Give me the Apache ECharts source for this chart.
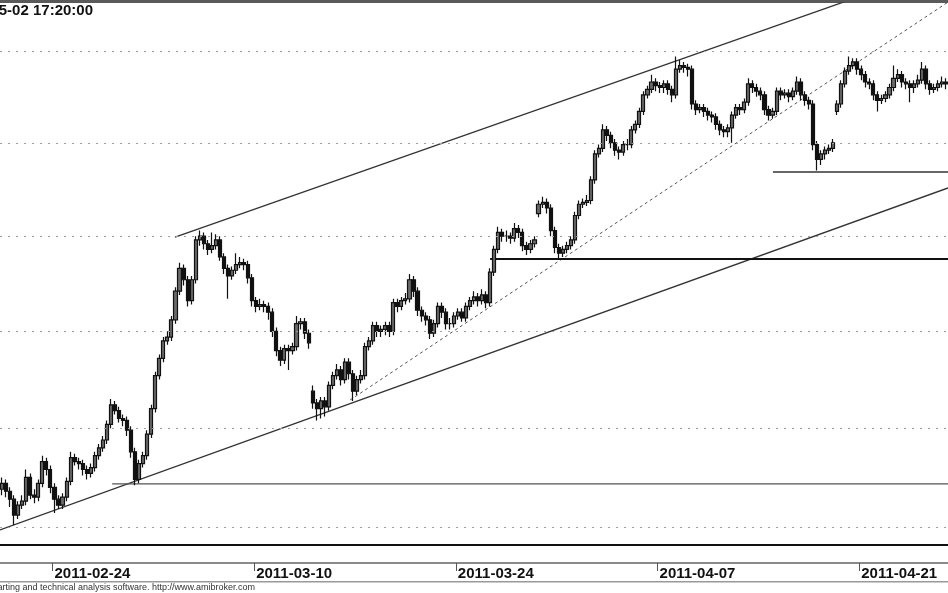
<!DOCTYPE html>
<html><head><meta charset="utf-8">
<script src="https://cdn.jsdelivr.net/npm/echarts@6/dist/echarts.min.js"></script>
<style>html,body{margin:0;padding:0;background:#fff}#c{width:948px;height:593px}</style>
</head><body><div id="c"></div><script>
const tradingDays = ['2011-02-21','2011-02-22','2011-02-23','2011-02-24','2011-02-25','2011-02-28',
'2011-03-01','2011-03-02','2011-03-03','2011-03-04','2011-03-07','2011-03-08','2011-03-09','2011-03-10','2011-03-11',
'2011-03-14','2011-03-15','2011-03-16','2011-03-17','2011-03-18','2011-03-21','2011-03-22','2011-03-23','2011-03-24',
'2011-03-25','2011-03-28','2011-03-29','2011-03-30','2011-03-31','2011-04-01','2011-04-04','2011-04-05','2011-04-06',
'2011-04-07','2011-04-08','2011-04-11','2011-04-12','2011-04-13','2011-04-14','2011-04-15','2011-04-18','2011-04-19',
'2011-04-20','2011-04-21','2011-04-26','2011-04-27','2011-04-28','2011-04-29'];
const sessionTimes = ['09:00','10:40','12:20','14:00','15:40'];
const tickDates = ['2011-02-24','2011-03-10','2011-03-24','2011-04-07','2011-04-21'];

const opens = [
2619,2622,2618,2614,2606,2611,2613,2625,2616,2615,
2622,2633,2629,2620,2614,2611,2615,2623,2635,2633,
2632,2629,2627,2630,2636,2640,2644,2652,2662,2659,
2655,2654,2649,2638,2624,2632,2636,2647,2660,2677,
2686,2695,2697,2706,2721,2733,2727,2716,2727,2748,
2750,2746,2743,2745,2748,2739,2733,2729,2732,2735,
2736,2735,2728,2716,2713,2714,2713,2710,2700,2690,
2685,2691,2690,2692,2704,2705,2699,2669,2663,2660,
2664,2661,2672,2677,2680,2675,2684,2678,2669,2675,
2677,2692,2695,2703,2700,2701,2703,2700,2715,2713,
2716,2717,2727,2721,2711,2708,2706,2699,2704,2713,
2710,2704,2704,2708,2710,2707,2713,2716,2718,2716,
2719,2715,2731,2743,2752,2750,2750,2749,2754,2752,
2745,2743,2746,2762,2767,2768,2765,2753,2744,2741,
2743,2745,2748,2761,2767,2768,2769,2780,2794,2797,
2807,2804,2800,2796,2795,2799,2799,2807,2810,2817,
2826,2829,2833,2831,2830,2832,2829,2826,2840,2842,
2841,2840,2821,2818,2819,2817,2815,2814,2810,2807,
2806,2808,2815,2819,2818,2822,2832,2830,2828,2826,
2818,2815,2817,2828,2826,2827,2825,2828,2833,2826,
2823,2821,2799,2791,2794,2796,2797,2817,2821,2832,
2839,2842,2844,2840,2837,2833,2832,2826,2823,2824,
2826,2830,2835,2837,2833,2832,2830,2832,2834,2840,
2832,2829,2830,2832,2833];
const closes = [
2622,2618,2614,2606,2611,2613,2625,2616,2615,2622,
2633,2629,2620,2614,2611,2615,2623,2635,2633,2632,
2629,2627,2630,2636,2640,2644,2652,2662,2659,2655,
2654,2649,2638,2624,2632,2636,2647,2660,2677,2686,
2695,2697,2706,2721,2733,2727,2716,2727,2748,2750,
2746,2743,2745,2748,2739,2733,2729,2732,2735,2736,
2735,2728,2716,2713,2714,2713,2710,2700,2690,2685,
2691,2690,2692,2704,2705,2699,2694,2663,2660,2664,
2661,2672,2677,2680,2675,2684,2678,2669,2675,2677,
2692,2695,2703,2700,2701,2703,2700,2715,2713,2716,
2717,2727,2721,2711,2708,2706,2699,2704,2713,2710,
2704,2704,2708,2710,2707,2713,2716,2718,2716,2719,
2715,2731,2743,2752,2750,2750,2749,2754,2752,2745,
2743,2746,2748,2767,2768,2765,2753,2744,2741,2743,
2745,2748,2761,2767,2768,2769,2780,2794,2797,2807,
2804,2800,2796,2795,2799,2799,2807,2810,2817,2826,
2829,2833,2831,2830,2832,2829,2826,2840,2842,2841,
2840,2821,2818,2819,2817,2815,2814,2810,2807,2806,
2808,2815,2819,2818,2822,2832,2830,2828,2826,2818,
2815,2817,2828,2826,2827,2825,2828,2833,2826,2823,
2821,2799,2791,2794,2796,2797,2800,2821,2832,2839,
2842,2844,2840,2837,2833,2832,2826,2823,2824,2826,
2830,2835,2837,2833,2832,2830,2832,2834,2840,2832,
2829,2830,2832,2833,2832];
const highs = [
2625,2624,2620,2616,2613,2616,2629,2627,2619,2624,
2636,2635,2631,2622,2616,2617,2625,2638,2637,2635,
2634,2631,2632,2638,2642,2646,2654,2665,2664,2661,
2657,2656,2651,2640,2634,2638,2649,2662,2679,2688,
2697,2700,2708,2723,2736,2735,2729,2729,2750,2753,
2752,2748,2752,2751,2750,2741,2735,2734,2741,2739,
2738,2737,2730,2718,2717,2716,2715,2712,2702,2692,
2693,2693,2694,2708,2707,2707,2701,2672,2665,2666,
2666,2674,2679,2683,2682,2686,2686,2680,2677,2680,
2694,2697,2705,2705,2703,2705,2705,2717,2717,2718,
2720,2730,2729,2723,2713,2710,2708,2706,2715,2715,
2712,2707,2710,2712,2712,2715,2718,2721,2720,2722,
2721,2733,2745,2755,2754,2753,2752,2757,2756,2754,
2747,2748,2750,2769,2771,2770,2767,2755,2746,2745,
2747,2750,2763,2769,2770,2772,2782,2796,2799,2810,
2809,2806,2802,2798,2801,2802,2809,2812,2819,2828,
2831,2837,2835,2833,2834,2834,2831,2847,2845,2844,
2843,2842,2823,2821,2821,2819,2817,2816,2812,2809,
2810,2817,2821,2821,2824,2835,2834,2832,2830,2828,
2820,2819,2830,2830,2829,2829,2830,2836,2835,2828,
2825,2823,2801,2796,2798,2799,2802,2823,2834,2841,
2847,2846,2846,2842,2839,2835,2834,2828,2826,2828,
2832,2842,2840,2839,2835,2834,2834,2837,2844,2842,
2834,2832,2834,2836,2835];
const lows = [
2616,2615,2610,2601,2604,2609,2611,2614,2612,2613,
2620,2626,2617,2607,2609,2609,2613,2621,2631,2629,
2626,2624,2625,2628,2634,2638,2642,2650,2657,2653,
2651,2646,2635,2621,2622,2630,2634,2645,2658,2675,
2684,2693,2695,2704,2719,2724,2713,2714,2725,2745,
2743,2740,2741,2743,2737,2730,2717,2727,2730,2733,
2732,2725,2713,2710,2711,2710,2706,2697,2687,2682,
2683,2680,2688,2690,2701,2696,2691,2660,2654,2655,
2656,2659,2670,2675,2672,2673,2675,2664,2667,2673,
2675,2690,2693,2697,2697,2698,2697,2698,2710,2711,
2714,2715,2718,2708,2705,2703,2696,2697,2702,2707,
2701,2701,2702,2706,2705,2705,2711,2714,2713,2714,
2712,2713,2729,2741,2747,2747,2746,2747,2749,2742,
2740,2741,2744,2760,2765,2762,2750,2741,2738,2739,
2741,2743,2746,2759,2765,2766,2767,2778,2792,2795,
2801,2797,2793,2791,2793,2796,2797,2805,2808,2815,
2824,2827,2828,2827,2827,2826,2822,2824,2838,2838,
2836,2818,2815,2816,2814,2812,2811,2807,2804,2803,
2803,2800,2813,2815,2816,2820,2827,2825,2823,2815,
2812,2813,2815,2823,2824,2822,2823,2826,2823,2820,
2818,2796,2785,2788,2791,2794,2795,2815,2819,2830,
2837,2840,2837,2834,2830,2829,2823,2817,2821,2822,
2824,2828,2833,2830,2829,2822,2827,2830,2832,2829,
2826,2827,2828,2830,2829];

// trend lines: [bar index, price]
const upperChannel = [[42.9, 2749.5], [223.8, 2889]];
const lowerChannel = [[-0.5, 2598.5], [234.5, 2775.7]];
const dottedTrend  = [[86.3, 2664.5], [234.5, 2877]];
const supportLow   = [[27.3, 2621.7], [234.5, 2621.7]];
const supportMid   = [[121, 2737.9], [234.5, 2737.9]];
const supportHigh  = [[191.1, 2784.3], [234.5, 2784.3]];
const gridLevels = [2600, 2650, 2700, 2750, 2800, 2850];

const allSlots = [];
tradingDays.forEach(d => sessionTimes.forEach(t => allSlots.push(d + ' ' + t)));
const categories = allSlots.slice(2, 2 + closes.length);
const candleData = categories.map((c, i) => [opens[i], closes[i], lows[i], highs[i]]);
const tickSet = new Set(tickDates.map(d => d + ' ' + sessionTimes[0]));
const nBars = categories.length;

const chart = echarts.init(document.getElementById('c'), null, {renderer: 'canvas'});
function tl(data, style) {
  return {type: 'line', xAxisIndex: 1, yAxisIndex: 0, data: data, symbol: 'none', clip: true,
    silent: true, lineStyle: style, z: 3};
}
chart.setOption({
  animation: false,
  backgroundColor: '#fff',
  grid: {left: 0, right: 0, top: 3, bottom: 48},
  xAxis: [{
    type: 'category', data: categories, boundaryGap: true, offset: 18,
    axisLine: {show: true, lineStyle: {color: '#8a8a8a', width: 2}},
    axisTick: {show: true, length: 8, interval: (i, v) => tickSet.has(v), lineStyle: {color: '#555', width: 1}},
    axisLabel: {show: true, interval: (i, v) => tickSet.has(v), formatter: v => v.slice(0, 10),
      align: 'left', margin: 3, fontFamily: 'Liberation Sans, Arial, sans-serif', fontWeight: 'bold',
      fontSize: 15, color: '#111'},
    splitLine: {show: false}
  }, {
    type: 'value', min: -0.5, max: nBars - 0.5, show: false
  }],
  yAxis: {type: 'log', logBase: 10, min: 2591, max: 2876.5, show: false, splitLine: {show: false}},
  series: [{
    type: 'candlestick', data: candleData, barWidth: 3.6, z: 4,
    itemStyle: {color: '#6a6a6a', color0: '#111', borderColor: '#111', borderColor0: '#111', borderWidth: 1.2},
    markLine: {silent: true, symbol: 'none', label: {show: false}, animation: false,
      lineStyle: {color: '#a0a0a0', type: [2, 6], width: 1.2},
      data: gridLevels.map(v => ({yAxis: v}))}
  },
  tl(upperChannel, {color: '#333', width: 1.3}),
  tl(lowerChannel, {color: '#333', width: 1.3}),
  tl(dottedTrend, {color: '#555', width: 1, type: [3, 3]}),
  tl(supportLow, {color: '#555', width: 1.2}),
  tl(supportMid, {color: '#111', width: 2}),
  tl(supportHigh, {color: '#333', width: 1.5})
  ],
  graphic: [
    {type: 'rect', shape: {x: 0, y: 0, width: 948, height: 3}, style: {fill: '#5a5a5a'}, silent: true},
    {type: 'rect', shape: {x: 0, y: 544, width: 948, height: 2}, style: {fill: '#111'}, silent: true},
    {type: 'rect', shape: {x: 0, y: 581, width: 948, height: 1.5}, style: {fill: '#999'}, silent: true},
    {type: 'text', x: 93, y: 11, silent: true, style: {text: '2011-05-02 17:20:00', align: 'right', verticalAlign: 'middle',
      font: 'bold 15px "Liberation Sans", Arial, sans-serif', fill: '#111'}},
    {type: 'text', x: 255, y: 588, silent: true, style: {text: 'AmiBroker - charting and technical analysis software. http://www.amibroker.com',
      align: 'right', verticalAlign: 'middle', font: '9px "Liberation Sans", Arial, sans-serif', fill: '#333'}}
  ]
});
</script></body></html>
